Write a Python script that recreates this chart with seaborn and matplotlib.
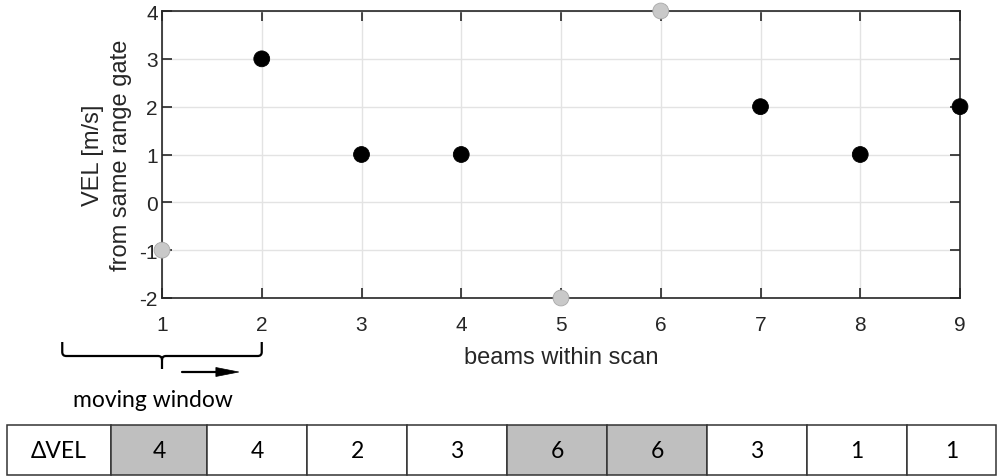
import numpy as np
import pandas as pd
import seaborn as sns
import matplotlib
matplotlib.use("Agg")
import matplotlib.pyplot as plt
from matplotlib.patches import Rectangle, Polygon, PathPatch
from matplotlib.path import Path
from matplotlib.transforms import blended_transform_factory

# ---- data ----
beams = [1, 2, 3, 4, 5, 6, 7, 8, 9]
vel = [-1, 3, 1, 1, -2, 4, 2, 1, 2]
flagged = [True, False, False, False, True, True, False, False, False]
dvel = [4, 4, 2, 3, 6, 6, 3, 1, 1]
dvel_flagged = [True, False, False, False, True, True, False, False, False]
table_label = "ΔVEL"
xlabel = "beams within scan"
ylabel = "VEL [m/s]\nfrom same range gate"
window_label = "moving window"
x_ticks = [1, 2, 3, 4, 5, 6, 7, 8, 9]
y_ticks = [-2, -1, 0, 1, 2, 3, 4]

sns.set_theme(style="white")
plt.rcParams['font.family'] = ['Liberation Sans', 'DejaVu Sans']
plt.rcParams['axes.unicode_minus'] = False

W, H = 997, 477
fig = plt.figure(figsize=(W / 100, H / 100), dpi=100)

def fx(px):
    return px / W

def fy(py):
    return 1 - py / H

ax_l, ax_r, ax_t, ax_b = 162, 960, 12, 299
ax = fig.add_axes([fx(ax_l), fy(ax_b), fx(ax_r - ax_l), (ax_b - ax_t) / H])

df = pd.DataFrame({"beam": beams, "vel": vel,
                   "state": ["flag" if f else "ok" for f in flagged]})

ax.grid(True, color="#e3e3e3", linewidth=1.0, zorder=0)
ax.set_axisbelow(True)

sns.scatterplot(data=df, x="beam", y="vel", hue="state",
                palette={"ok": "black", "flag": "#c9c9c9"},
                edgecolor=None, s=130, ax=ax, legend=False,
                clip_on=False, zorder=5)
coll = ax.collections[-1]
coll.set_edgecolors(["#a8a8a8" if f else "black" for f in flagged])
coll.set_linewidths(0.6)
coll.set_clip_on(False)
coll.set_zorder(5)

ax.set_xlim(1, 9)
ax.set_ylim(-2, 4)
ax.set_xticks(x_ticks)
ax.set_yticks(y_ticks)
ax.tick_params(direction="in", length=7, width=1.2, colors="#262626",
               labelsize=15, top=True, right=True, bottom=True, left=True)
ax.tick_params(axis="y", pad=3)
ax.tick_params(axis="x", pad=12)
for s in ax.spines.values():
    s.set_visible(True)
    s.set_color("#262626")
    s.set_linewidth(1.2)
    s.set_zorder(4)
ax.set_xlabel(xlabel, fontsize=17, color="#262626", labelpad=9)
ax.set_ylabel(ylabel, fontsize=17, color="#262626", labelpad=5, linespacing=1.35)

# ---- moving window bracket & arrow ----
tr = blended_transform_factory(ax.transData, fig.transFigure)
rx = 0.04
def Y(py):
    return fy(py)
verts = [(0, Y(343)), (0, Y(353)), (0, Y(357)), (rx, Y(357)),
         (1 - rx, Y(357)), (1, Y(357)), (1, Y(361)), (1, Y(370)),
         (1, Y(361)), (1, Y(357)), (1 + rx, Y(357)),
         (2 - rx, Y(357)), (2, Y(357)), (2, Y(353)), (2, Y(343))]
codes = [Path.MOVETO, Path.LINETO, Path.CURVE3, Path.CURVE3,
         Path.LINETO, Path.CURVE3, Path.CURVE3, Path.LINETO,
         Path.MOVETO, Path.CURVE3, Path.CURVE3,
         Path.LINETO, Path.CURVE3, Path.CURVE3, Path.LINETO]
fig.add_artist(PathPatch(Path(verts, codes), transform=tr, fill=False,
                         edgecolor="black", linewidth=1.6, clip_on=False))
ay = Y(373)
fig.add_artist(plt.Line2D([1.2, 1.56], [ay, ay], transform=tr,
                          color="black", linewidth=1.6, clip_on=False))
fig.add_artist(Polygon([(1.54, Y(368.5)), (1.77, ay), (1.54, Y(377.5))],
                       closed=True, transform=tr, facecolor="black",
                       edgecolor="black", linewidth=0.5, clip_on=False))
tfont = ['Lato', 'Open Sans', 'DejaVu Sans']
fig.text(fx(153), fy(407), window_label, ha="center", va="baseline",
         fontsize=16.5, family=tfont, color="black")

# ---- ΔVEL table row ----
row_t, row_b = 426, 475.5
label_l, first_l, cell_w, right_edge = 7, 111, 100, 996
lefts = [label_l] + [first_l] + [107 + cell_w * i for i in range(1, len(dvel))]
rights = [first_l] + [min(107 + cell_w * (i + 1), right_edge) for i in range(len(dvel))]
texts = [table_label] + [str(v) for v in dvel]
shades = [False] + list(dvel_flagged)
for l, r, t, sh in zip(lefts, rights, texts, shades):
    fig.add_artist(Rectangle((fx(l), fy(row_b)), fx(r - l), (row_b - row_t) / H,
                             transform=fig.transFigure,
                             facecolor="#bfbfbf" if sh else "white",
                             edgecolor="#333333", linewidth=1.1))
    fig.text(fx((l + r) / 2), fy((row_t + row_b) / 2 + 1), t, ha="center",
             va="center", fontsize=16.5, family=tfont, color="black")

fig.savefig("out.png", dpi=100)
